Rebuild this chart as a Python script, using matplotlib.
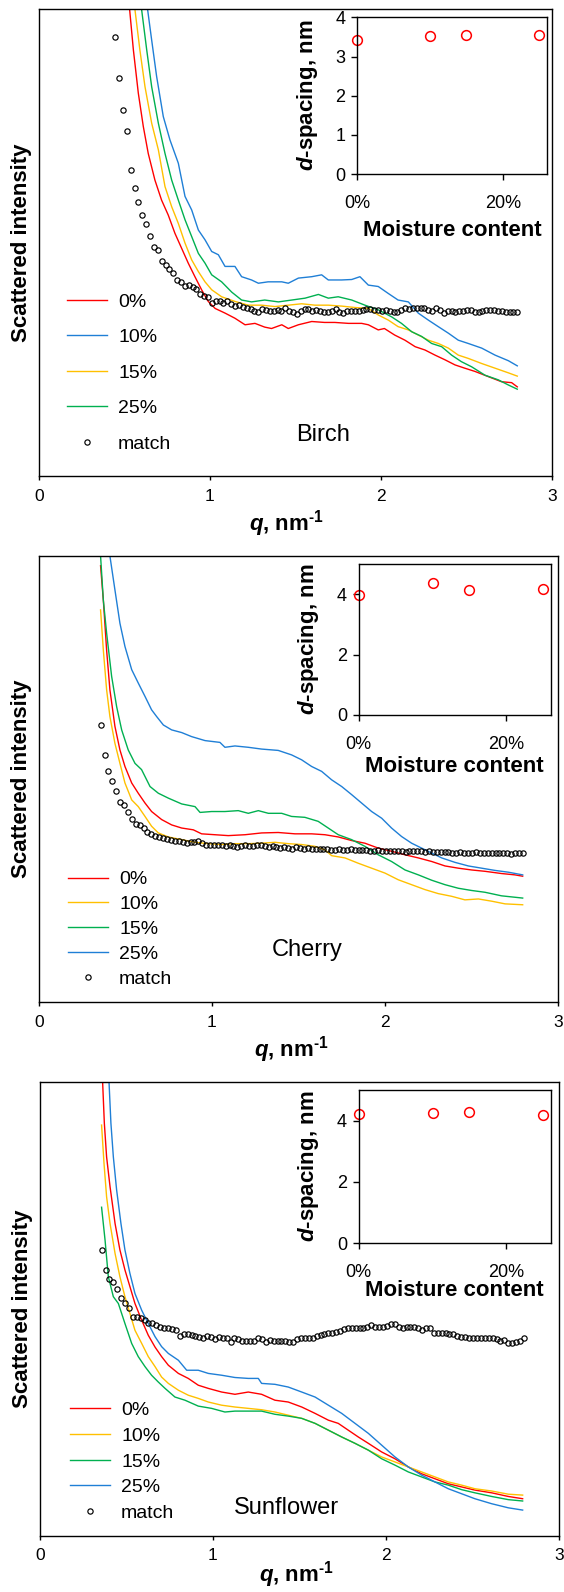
import matplotlib
matplotlib.use("Agg")
import matplotlib.pyplot as plt

plt.rcParams['font.family'] = ['Liberation Sans', 'DejaVu Sans']
plt.rcParams['mathtext.fontset'] = 'custom'
plt.rcParams['mathtext.rm'] = 'Liberation Sans'
plt.rcParams['mathtext.it'] = 'Liberation Sans:italic'
plt.rcParams['mathtext.bf'] = 'Liberation Sans:bold'
plt.rcParams['mathtext.bfit'] = 'Liberation Sans:bold:italic'
plt.rcParams['axes.linewidth'] = 1.0

RED = '#ff0000'
BLUE = '#1f7fd6'
YELLOW = '#ffc000'
GREEN = '#00b050'

# ---- data -----------------------------------------------------------------
# q grid of the "match" curves (nm^-1)
q_match = [0.356, 0.379, 0.401, 0.424, 0.446, 0.469, 0.492, 0.514, 0.537, 0.559,
           0.582, 0.605, 0.627, 0.650, 0.672, 0.695, 0.718, 0.740, 0.763, 0.785,
           0.808, 0.831, 0.853, 0.876, 0.898, 0.921, 0.944, 0.966, 0.989, 1.011,
           1.034, 1.057, 1.079, 1.102, 1.124, 1.147, 1.170, 1.192, 1.215, 1.237,
           1.260, 1.283, 1.305, 1.328, 1.350, 1.373, 1.396, 1.418, 1.441, 1.463,
           1.486, 1.509, 1.531, 1.554, 1.576, 1.599, 1.622, 1.644, 1.667, 1.689,
           1.712, 1.735, 1.757, 1.780, 1.802, 1.825, 1.848, 1.870, 1.893, 1.915,
           1.938, 1.961, 1.983, 2.006, 2.028, 2.051, 2.074, 2.096, 2.119, 2.141,
           2.164, 2.187, 2.209, 2.232, 2.254, 2.277, 2.300, 2.322, 2.345, 2.367,
           2.390, 2.413, 2.435, 2.458, 2.480, 2.503, 2.526, 2.548, 2.571, 2.593,
           2.616, 2.639, 2.661, 2.684, 2.706, 2.729, 2.752, 2.774, 2.797]

# Birch (intensity in arbitrary units, 0-100 = axis height)
birch_0_q = [0.53, 0.552, 0.581, 0.61, 0.639, 0.678, 0.717, 0.756, 0.795, 0.834, 0.873, 0.912,
             0.951, 0.99, 1.03, 1.088, 1.146, 1.205, 1.263, 1.32, 1.36, 1.42, 1.458, 1.517,
             1.595, 1.67, 1.73, 1.81, 1.887, 1.926, 1.984, 2.02, 2.08, 2.14, 2.2, 2.257,
             2.316, 2.374, 2.433, 2.49, 2.55, 2.627, 2.705, 2.764, 2.797]
birch_0_i = [100, 91.3, 82, 74.9, 69.1, 63.4, 59.1, 55.9, 52, 48.8, 45.6, 42.7,
             39.9, 37.4, 35.9, 34.9, 33.8, 32.4, 32.7, 31.9, 31.6, 32.4, 31.6, 32.4,
             33.1, 32.9, 32.9, 32.7, 32.7, 32.4, 31.3, 31.6, 30.2, 29.1, 27.7, 27,
             25.9, 24.9, 23.8, 23.1, 22.4, 21.3, 20.2, 20, 19.1]
birch_10_q = [0.635, 0.659, 0.688, 0.727, 0.766, 0.815, 0.854, 0.893, 0.932, 0.971, 1.01, 1.049,
              1.088, 1.146, 1.185, 1.243, 1.283, 1.34, 1.42, 1.458, 1.517, 1.595, 1.653, 1.692,
              1.77, 1.829, 1.877, 1.926, 1.984, 2.043, 2.1, 2.16, 2.218, 2.277, 2.335, 2.394,
              2.452, 2.51, 2.589, 2.667, 2.745, 2.797]
birch_10_i = [100, 93.4, 85.6, 77, 72, 67, 59.9, 57, 52.7, 50.6, 48.1, 47.4,
              44.9, 44.9, 42.7, 42, 41.3, 41.6, 41.6, 41.3, 42.4, 42.7, 43.1, 42,
              42, 42.1, 42.7, 40.9, 40.6, 39.1, 37.7, 37.3, 34.9, 33.4, 32, 30.6,
              29.1, 28.4, 27.4, 25.9, 24.7, 23.6]
birch_15_q = [0.561, 0.59, 0.62, 0.659, 0.698, 0.737, 0.776, 0.815, 0.854, 0.893, 0.932, 0.971,
              1.01, 1.068, 1.146, 1.224, 1.302, 1.38, 1.458, 1.536, 1.614, 1.692, 1.77, 1.848,
              1.926, 1.984, 2.043, 2.1, 2.16, 2.218, 2.277, 2.335, 2.394, 2.452, 2.51, 2.589,
              2.667, 2.745, 2.797]
birch_15_i = [100, 91.3, 83.4, 75.6, 69.9, 62, 57.7, 54.1, 49.9, 46.3, 43.8, 41.6,
              39.9, 38.4, 37.4, 36.6, 36.6, 36.3, 36.6, 36.9, 36.6, 36.6, 36.4, 36.1,
              35.9, 34.5, 33.4, 32, 31.3, 30.2, 29.1, 28.4, 27.4, 25.9, 25.2, 24.1,
              23.1, 22.1, 21.4]
birch_25_q = [0.6, 0.63, 0.659, 0.698, 0.737, 0.776, 0.815, 0.854, 0.893, 0.932, 0.971, 1.01,
              1.068, 1.127, 1.185, 1.243, 1.32, 1.4, 1.478, 1.556, 1.634, 1.692, 1.75, 1.829,
              1.906, 1.984, 2.062, 2.12, 2.18, 2.238, 2.296, 2.355, 2.413, 2.47, 2.53, 2.608,
              2.686, 2.745, 2.797]
birch_25_i = [100, 91.3, 83.4, 75.6, 69.1, 63.4, 59.1, 54.9, 51.3, 47.7, 45.6, 43.1,
              41.6, 39.4, 37.7, 37.3, 37.7, 37.3, 37.7, 38.1, 38.9, 38.1, 38.4, 37.7,
              36.6, 35.6, 34.1, 32.7, 30.9, 29.9, 28.4, 27.7, 25.9, 24.5, 23.4, 21.6,
              20.6, 19.5, 18.6]
birch_match = [94.1, 85.3, 78.4, 74.0, 65.6, 61.6, 58.8, 55.9, 54.0, 51.4,
               49.1, 48.4, 46.1, 45.2, 44.3, 43.4, 41.9, 41.6, 40.6, 40.9,
               40.4, 40.0, 38.9, 38.6, 38.3, 37.0, 37.6, 37.4, 37.1, 37.4,
               36.9, 36.4, 36.7, 36.3, 35.9, 35.7, 35.4, 35.1, 35.7, 35.6,
               35.4, 35.4, 35.6, 35.4, 35.9, 35.4, 35.2, 34.7, 35.4, 35.7,
               35.7, 35.4, 35.6, 35.4, 35.2, 35.2, 35.4, 35.7, 35.2, 35.0,
               35.4, 35.4, 35.4, 35.4, 35.6, 35.7, 35.7, 35.6, 35.6, 35.4,
               35.6, 35.4, 35.2, 35.2, 35.6, 35.9, 35.7, 35.9, 35.9, 35.9,
               35.9, 35.6, 35.4, 35.9, 35.6, 34.9, 35.4, 35.4, 35.2, 35.4,
               35.4, 35.6, 35.6, 35.2, 35.1, 35.4, 35.6, 35.6, 35.6, 35.4,
               35.4, 35.2, 35.2, 35.2, 35.2]

# Cherry
cherry_0_q = [0.356, 0.372, 0.391, 0.41, 0.439, 0.468, 0.497, 0.536, 0.574, 0.613, 0.651, 0.709,
              0.767, 0.825, 0.892, 0.94, 1.017, 1.094, 1.191, 1.287, 1.383, 1.48, 1.576, 1.653,
              1.73, 1.807, 1.884, 1.961, 2.038, 2.116, 2.193, 2.27, 2.347, 2.424, 2.501, 2.578,
              2.674, 2.751, 2.796]
cherry_0_i = [97.8, 90.1, 78.9, 70, 61.8, 56.5, 52.8, 49.1, 46.8, 44.6, 42.7, 40.9,
              39.7, 39, 38.6, 37.7, 37.5, 37.3, 37.5, 37.9, 38, 37.7, 37.7, 37.5,
              37, 36.2, 35.6, 34.5, 33.8, 33, 32.3, 31.5, 30.5, 30, 29.6, 29.3,
              28.8, 28.5, 28.2]
cherry_10_q = [0.356, 0.372, 0.391, 0.41, 0.439, 0.468, 0.497, 0.536, 0.574, 0.613, 0.651, 0.69,
               0.748, 0.825, 0.902, 0.979, 1.056, 1.133, 1.21, 1.287, 1.364, 1.441, 1.518, 1.595,
               1.653, 1.692, 1.769, 1.846, 1.923, 2.0, 2.077, 2.154, 2.231, 2.308, 2.385, 2.462,
               2.54, 2.617, 2.694, 2.796]
cherry_10_i = [87.9, 78.9, 70, 64, 58, 53.5, 49.1, 45.3, 43.8, 41.6, 39.4, 37.9,
               37, 36.4, 35.8, 35.5, 35.3, 35.5, 35.5, 35.6, 35.8, 35.5, 35.3, 34.9,
               34.1, 32.8, 32.3, 31.1, 30, 28.9, 27.4, 26.3, 25.2, 24.3, 23.7, 22.9,
               23.1, 22.6, 22, 21.8]
cherry_15_q = [0.356, 0.372, 0.391, 0.42, 0.449, 0.478, 0.516, 0.555, 0.593, 0.642, 0.69, 0.748,
               0.825, 0.902, 0.931, 0.998, 1.075, 1.152, 1.21, 1.268, 1.326, 1.403, 1.46, 1.537,
               1.614, 1.672, 1.73, 1.807, 1.884, 1.961, 2.038, 2.116, 2.193, 2.27, 2.347, 2.424,
               2.501, 2.578, 2.674, 2.796]
cherry_15_i = [100, 90.1, 82.7, 73, 66.2, 61, 56.5, 53.5, 52.1, 48.3, 46.8, 45.7,
               44.4, 43.8, 42.5, 42.7, 42.7, 42.9, 42.3, 42.9, 42.3, 42.3, 41.6, 41.4,
               40.5, 39, 37.5, 36.4, 34.9, 33, 31.5, 29.6, 28.5, 27.3, 26.3, 25.5,
               25, 24.6, 23.8, 23.3]
cherry_25_q = [0.41, 0.439, 0.468, 0.497, 0.536, 0.574, 0.613, 0.651, 0.68, 0.719, 0.767, 0.825,
               0.882, 0.96, 1.046, 1.075, 1.133, 1.21, 1.287, 1.383, 1.46, 1.518, 1.576, 1.634,
               1.692, 1.75, 1.807, 1.865, 1.923, 1.981, 2.038, 2.096, 2.154, 2.212, 2.27, 2.328,
               2.405, 2.482, 2.559, 2.636, 2.713, 2.796]
cherry_25_i = [100, 92.4, 84.9, 79.7, 74.5, 71.5, 68.5, 65.5, 64, 62.1, 61, 60.4,
               59.5, 58.6, 58.2, 57.1, 57.4, 57.1, 56.7, 56.4, 55.4, 54.3, 52.8, 51.7,
               49.8, 48.3, 46.5, 44.6, 42.7, 41.2, 39, 37.1, 35.6, 34.5, 33.4, 32.3,
               31.3, 30.5, 30, 29.5, 29.1, 28.5]
cherry_match = [62.0, 55.3, 51.8, 49.6, 47.3, 44.8, 44.1, 42.6, 41.0, 40.0,
                39.7, 39.0, 38.2, 37.7, 37.3, 37.0, 36.7, 36.5, 36.4, 36.2,
                36.0, 35.8, 35.6, 35.8, 35.9, 36.0, 35.6, 35.3, 35.3, 35.1,
                35.1, 35.2, 34.9, 35.1, 35.0, 34.7, 35.0, 35.1, 35.0, 34.9,
                35.2, 35.1, 34.9, 34.7, 34.9, 34.7, 34.5, 34.7, 34.5, 34.4,
                34.7, 34.5, 34.4, 34.5, 34.4, 34.4, 34.3, 34.3, 34.3, 34.1,
                34.1, 34.4, 34.1, 34.1, 34.3, 34.1, 34.0, 34.1, 34.0, 33.9,
                33.9, 34.0, 33.8, 33.9, 33.8, 33.9, 33.8, 33.8, 33.6, 33.8,
                33.9, 33.8, 33.8, 33.6, 33.8, 33.6, 33.6, 33.6, 33.6, 33.6,
                33.5, 33.5, 33.6, 33.5, 33.5, 33.5, 33.6, 33.4, 33.5, 33.5,
                33.4, 33.4, 33.5, 33.4, 33.4, 33.2, 33.5, 33.4, 33.3]

# Sunflower
sunflower_0_q = [0.362, 0.372, 0.385, 0.405, 0.434, 0.462, 0.491, 0.52, 0.549, 0.588, 0.626, 0.665,
                 0.703, 0.742, 0.8, 0.857, 0.915, 0.973, 1.05, 1.127, 1.204, 1.281, 1.358, 1.435,
                 1.513, 1.59, 1.667, 1.724, 1.782, 1.84, 1.898, 1.975, 2.052, 2.129, 2.206, 2.283,
                 2.36, 2.437, 2.514, 2.611, 2.707, 2.79]
sunflower_0_i = [100, 90.9, 83.5, 76.9, 68.8, 63, 58.6, 54.9, 51.2, 47.5, 44.2, 41.6,
                 39.5, 37.6, 35.8, 34.7, 33.2, 32.5, 31.7, 31.2, 31.7, 31.2, 29.9, 29.5,
                 28.4, 27, 25.5, 24.8, 23.3, 21.8, 20.4, 18.5, 17, 15.2, 13.7, 12.6,
                 11.5, 10.8, 10.1, 9.5, 8.7, 8.2]
sunflower_10_q = [0.356, 0.37, 0.385, 0.405, 0.434, 0.462, 0.491, 0.52, 0.549, 0.588, 0.626, 0.665,
                  0.703, 0.742, 0.8, 0.857, 0.915, 0.973, 1.05, 1.127, 1.204, 1.281, 1.358, 1.435,
                  1.513, 1.59, 1.667, 1.744, 1.821, 1.898, 1.975, 2.052, 2.129, 2.206, 2.283, 2.36,
                  2.437, 2.514, 2.611, 2.707, 2.79]
sunflower_10_i = [90.5, 82.1, 74.7, 68.8, 62.2, 57.1, 52.7, 49, 45.3, 42.4, 39.5, 37.3,
                  35, 33.6, 32.1, 31, 30.3, 29.5, 28.8, 28.4, 28.1, 27.8, 27.3, 26.6,
                  25.9, 24.8, 23.3, 21.8, 20.4, 18.9, 17.4, 16.3, 15.2, 14.1, 13, 11.9,
                  11.2, 10.4, 9.9, 9.2, 9]
sunflower_15_q = [0.356, 0.376, 0.395, 0.424, 0.453, 0.491, 0.53, 0.568, 0.607, 0.645, 0.684, 0.723,
                  0.78, 0.838, 0.915, 0.992, 1.069, 1.127, 1.204, 1.281, 1.358, 1.435, 1.513, 1.59,
                  1.667, 1.744, 1.821, 1.898, 1.975, 2.052, 2.129, 2.206, 2.283, 2.36, 2.437, 2.514,
                  2.611, 2.707, 2.79]
sunflower_15_i = [72.4, 65.2, 57.1, 52.7, 51.2, 46.8, 42.4, 39.5, 37.3, 35.4, 33.9, 32.5,
                  30.6, 29.9, 28.6, 28.1, 27.3, 27.5, 27.5, 27.5, 26.8, 26.4, 25.9, 24.8,
                  23.3, 21.8, 20.4, 18.9, 17, 15.6, 14.1, 13, 11.9, 11.2, 10.2, 9.5,
                  8.7, 8, 7.7]
sunflower_25_q = [0.399, 0.41, 0.424, 0.443, 0.468, 0.491, 0.52, 0.549, 0.588, 0.626, 0.665, 0.703,
                  0.742, 0.8, 0.848, 0.915, 0.973, 1.05, 1.127, 1.204, 1.262, 1.281, 1.358, 1.435,
                  1.513, 1.59, 1.667, 1.744, 1.821, 1.898, 1.975, 2.052, 2.129, 2.206, 2.283, 2.36,
                  2.437, 2.514, 2.611, 2.707, 2.79]
sunflower_25_i = [100, 90.9, 83.5, 76.2, 68.8, 63, 57.8, 53.4, 49.7, 46.8, 43.9, 41.7,
                  40.2, 38.7, 36.5, 36.5, 35.8, 35.4, 34.9, 34.7, 34.7, 33.6, 33.4, 32.8,
                  31.7, 30.6, 28.8, 27, 24.8, 22.6, 20, 17.4, 15.2, 13.4, 11.9, 10.4,
                  9.3, 8.2, 7.1, 6.2, 5.7]
sunflower_match = [63.0, 58.6, 56.7, 56.0, 54.5, 52.5, 51.4, 50.1, 48.3, 48.3,
                   48.0, 47.5, 46.9, 46.8, 46.4, 46.1, 45.8, 45.7, 45.5, 45.3,
                   44.0, 44.5, 44.4, 44.2, 44.0, 43.9, 43.5, 44.0, 43.9, 43.3,
                   43.9, 43.5, 43.5, 42.8, 43.5, 43.3, 43.0, 43.0, 43.0, 43.0,
                   43.7, 43.3, 42.8, 43.1, 43.0, 43.0, 43.0, 43.0, 42.8, 42.8,
                   43.3, 43.5, 43.5, 43.7, 43.7, 44.0, 44.2, 44.5, 44.6, 44.7,
                   45.0, 45.2, 45.5, 45.7, 45.7, 45.9, 45.9, 45.9, 46.1, 46.4,
                   46.1, 46.1, 46.1, 46.2, 46.6, 46.7, 46.1, 45.9, 46.1, 46.1,
                   46.1, 45.9, 45.3, 45.7, 45.7, 44.7, 44.7, 44.7, 44.6, 44.5,
                   44.4, 44.1, 43.9, 43.9, 43.7, 43.7, 43.7, 43.7, 43.7, 43.5,
                   43.5, 43.3, 43.0, 43.1, 42.5, 42.5, 42.8, 43.0, 43.5]

# insets: d-spacing vs moisture content
moisture = [0.0, 0.10, 0.15, 0.25]
moisture_ticks = [0.0, 0.2]
moisture_labels = ['0%', '20%']
d_birch = [3.42, 3.52, 3.55, 3.55]
d_cherry = [3.99, 4.38, 4.13, 4.19]
d_sunflower = [4.21, 4.26, 4.28, 4.19]

# ---- figure ---------------------------------------------------------------
fig = plt.figure(figsize=(5.64, 15.92), dpi=100)


def panel(rect, lines, match_i, match_first, name, name_xy, leg_xy, leg_space, xlab_x, xlab_pad,
          inset_rect, d_vals, d_top, d_ticks, inset_pad):
    ax = fig.add_axes(rect)
    for q, i, c, lab in lines:
        ax.plot(q, i, color=c, lw=1.0, label=lab)
    if match_first:
        mq = q_match[-len(match_i):]
    else:
        mq = q_match[:len(match_i)]
    ax.plot(mq, match_i, 'o', ms=3.8, mfc='none', mec='black', mew=0.85, label='match')
    ax.set_xlim(0, 3)
    ax.set_ylim(0, 100)
    ax.set_xticks([0, 1, 2, 3])
    ax.set_yticks([])
    ax.tick_params(axis='x', direction='out', length=3, width=1, labelsize=12.5, pad=6)
    ax.set_xlabel('$\\mathbfit{q}$, nm$^{\\mathbf{\u20101}}$', fontsize=16,
                  fontweight='bold', labelpad=xlab_pad)
    ax.xaxis.label.set_x(xlab_x)
    ax.set_ylabel('Scattered intensity', fontsize=16, fontweight='bold', labelpad=5)
    ax.text(name_xy[0], name_xy[1], name, transform=ax.transAxes, fontsize=17,
            ha='center', va='center')
    ax.legend(loc='upper left', bbox_to_anchor=leg_xy, frameon=False, fontsize=14,
              handlelength=2.06, handletextpad=0.57, labelspacing=leg_space,
              borderpad=0, borderaxespad=0, numpoints=1)

    ins = fig.add_axes(inset_rect)
    ins.plot(moisture, d_vals, 'o', ms=7, mfc='none', mec=RED, mew=1.1, clip_on=False)
    ins.set_xlim(0, 0.26)
    ins.set_ylim(0, d_top)
    ins.set_xticks(moisture_ticks)
    ins.set_xticklabels(moisture_labels)
    ins.set_yticks(d_ticks)
    ins.tick_params(direction='out', length=4.5, width=1, labelsize=13)
    ins.tick_params(axis='x', pad=10.5)
    ins.tick_params(axis='y', pad=4)
    ins.set_xlabel('Moisture content', fontsize=16, fontweight='bold', labelpad=inset_pad)
    ins.set_ylabel('$\\mathbfit{d}$-spacing, nm', fontsize=16, fontweight='bold', labelpad=11)
    return ax, ins


panel([0.0691, 0.7010, 0.9096, 0.2932],
      [(birch_0_q, birch_0_i, RED, '0%'),
       (birch_10_q, birch_10_i, BLUE, '10%'),
       (birch_15_q, birch_15_i, YELLOW, '15%'),
       (birch_25_q, birch_25_i, GREEN, '25%')],
      birch_match, True, 'Birch', (0.553, 0.088), (0.0546, 0.392), 0.92, 0.483, 3,
      [0.633, 0.8907, 0.3363, 0.0984], d_birch, 4, [0, 1, 2, 3, 4], 5.8)

panel([0.0691, 0.3706, 0.9202, 0.2802],
      [(cherry_0_q, cherry_0_i, RED, '0%'),
       (cherry_10_q, cherry_10_i, YELLOW, '10%'),
       (cherry_15_q, cherry_15_i, GREEN, '15%'),
       (cherry_25_q, cherry_25_i, BLUE, '25%')],
      cherry_match, False, 'Cherry', (0.516, 0.117), (0.0559, 0.294), 0.37, 0.486, 3,
      [0.636, 0.5509, 0.3404, 0.0947], d_cherry, 5, [0, 2, 4], 2)

panel([0.0709, 0.0352, 0.9202, 0.2852],
      [(sunflower_0_q, sunflower_0_i, RED, '0%'),
       (sunflower_10_q, sunflower_10_i, YELLOW, '10%'),
       (sunflower_15_q, sunflower_15_i, GREEN, '15%'),
       (sunflower_25_q, sunflower_25_i, BLUE, '25%')],
      sunflower_match, False, 'Sunflower', (0.474, 0.062), (0.0578, 0.2965), 0.42, 0.494, -3,
      [0.636, 0.2192, 0.3404, 0.0961], d_sunflower, 5, [0, 2, 4], -0.4)

fig.savefig('out.png', dpi=100)
